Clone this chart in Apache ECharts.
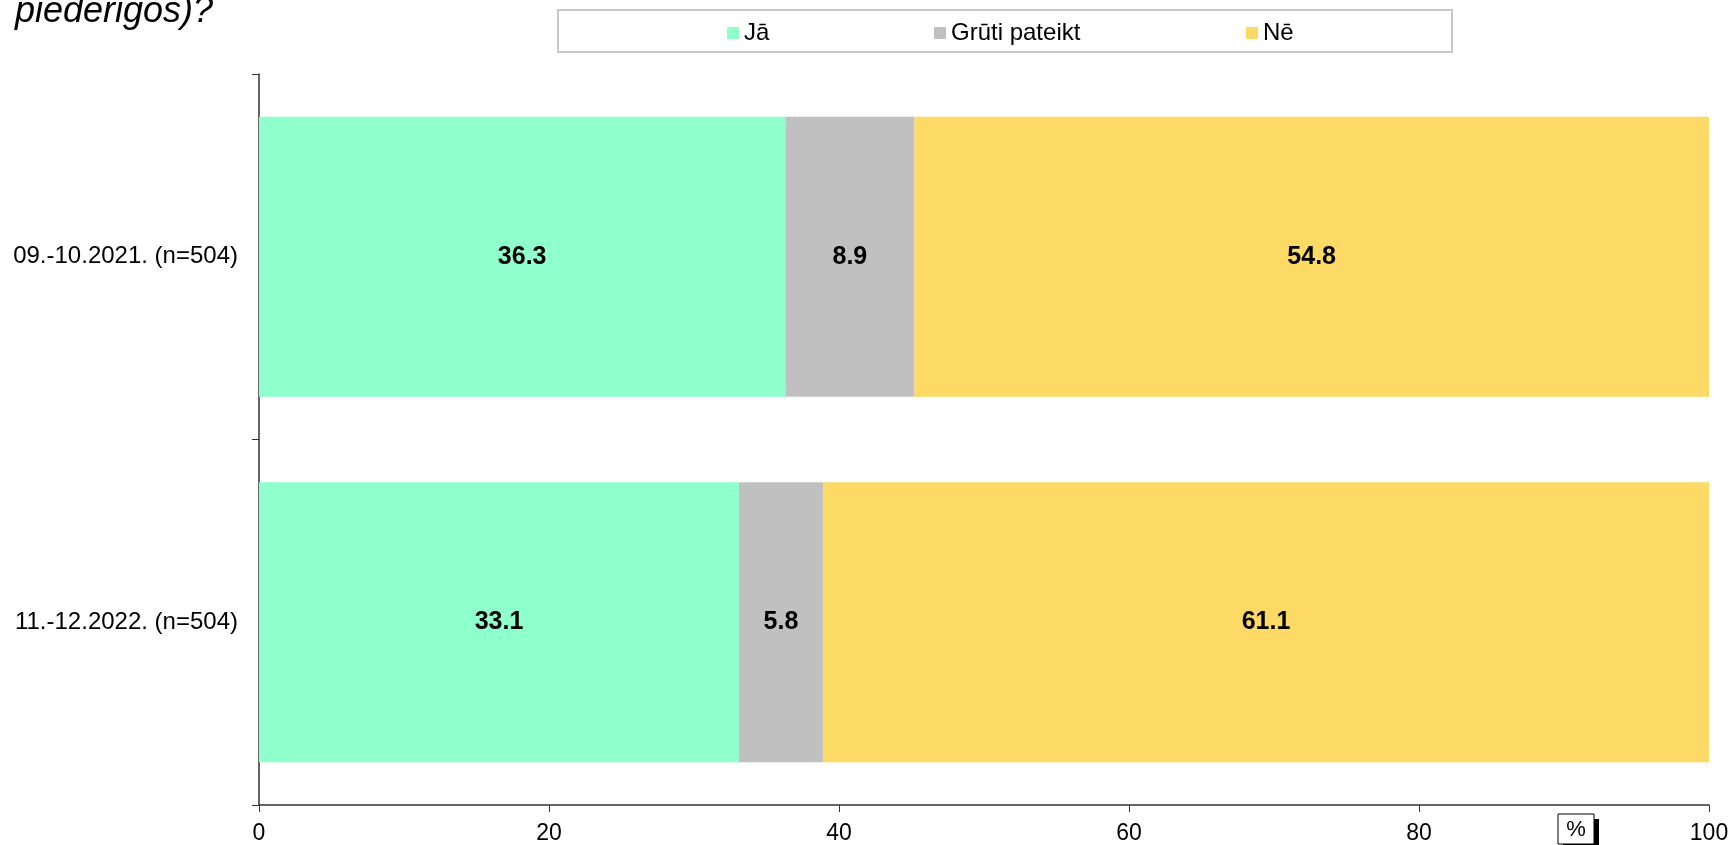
<!DOCTYPE html>
<html>
<head>
<meta charset="utf-8">
<script src="https://cdn.jsdelivr.net/npm/echarts@6/dist/echarts.min.js"></script>
<style>
  html, body { margin: 0; padding: 0; background: #fff; }
  #chart { width: 1730px; height: 845px; }
</style>
</head>
<body>
<div id="chart"></div>
<script>
// dati
const periods = ['09.-10.2021. (n=504)', '11.-12.2022. (n=504)'];
const seriesNames = ['Jā', 'Grūti pateikt', 'Nē'];
const yesValues = [36.3, 33.1];
const hardValues = [8.9, 5.8];
const noValues = [54.8, 61.1];
const colors = ['#8FFFCB', '#C0C0C0', '#FDD966'];

const chart = echarts.init(document.getElementById('chart'));
const font = 'Arial, "Liberation Sans", sans-serif';

function makeSeries(name, values, color) {
  return {
    name: name,
    type: 'bar',
    stack: 'total',
    data: values,
    barWidth: 280,
    itemStyle: { color: color },
    label: {
      show: true,
      position: 'inside',
      color: '#000',
      fontWeight: 'bold',
      fontSize: 25,
      fontFamily: font,
      formatter: p => p.value.toFixed(1)
    }
  };
}

// atsevišķas leģendas, lai novietotu elementus kā oriģinālā
const legendLeft = [727, 934, 1246];
const legends = seriesNames.map((n, i) => ({
  data: [n],
  left: legendLeft[i],
  top: 21,
  padding: 0,
  icon: 'rect',
  itemWidth: 12,
  itemHeight: 12,
  itemGap: 0,
  selectedMode: false,
  textStyle: { fontSize: 24, fontFamily: font, color: '#000' }
}));

const option = {
  animation: false,
  textStyle: { fontFamily: font },
  title: {
    text: 'piederīgos)?',
    left: 10,
    top: -11,
    textStyle: { fontSize: 36, fontStyle: 'italic', fontWeight: 'normal', color: '#000', fontFamily: font }
  },
  legend: legends,
  grid: { left: 259, right: 21, top: 74, bottom: 40, outerBoundsMode: 'none' },
  xAxis: {
    type: 'value',
    min: 0,
    max: 100,
    interval: 20,
    splitLine: { show: false },
    axisLine: { show: true, lineStyle: { color: '#333', width: 1.5 } },
    axisTick: { show: true, length: 7, lineStyle: { color: '#333' } },
    axisLabel: { fontSize: 23, color: '#000', margin: 17, fontFamily: font }
  },
  yAxis: {
    type: 'category',
    inverse: true,
    data: periods,
    axisLine: { show: true, lineStyle: { color: '#333', width: 1.5 } },
    axisTick: { show: true, length: 7, lineStyle: { color: '#333' } },
    axisLabel: { fontSize: 24, color: '#000', margin: 21, fontFamily: font }
  },
  graphic: [
    {
      type: 'rect',
      shape: { x: 558, y: 10, width: 894, height: 42 },
      style: { fill: 'none', stroke: '#c8c8c8', lineWidth: 2 },
      z: 0
    },
    {
      type: 'rect',
      shape: { x: 1563, y: 819, width: 36, height: 30 },
      style: { fill: '#000' }
    },
    {
      type: 'rect',
      shape: { x: 1558, y: 814, width: 36, height: 30 },
      style: { fill: '#fff', stroke: '#000', lineWidth: 1 }
    },
    {
      type: 'text',
      x: 1576,
      y: 830,
      style: { text: '%', fontSize: 22, fontFamily: font, fill: '#000', align: 'center', verticalAlign: 'middle' }
    }
  ],
  series: [
    makeSeries(seriesNames[0], yesValues, colors[0]),
    makeSeries(seriesNames[1], hardValues, colors[1]),
    makeSeries(seriesNames[2], noValues, colors[2])
  ]
};

chart.setOption(option);
</script>
</body>
</html>
